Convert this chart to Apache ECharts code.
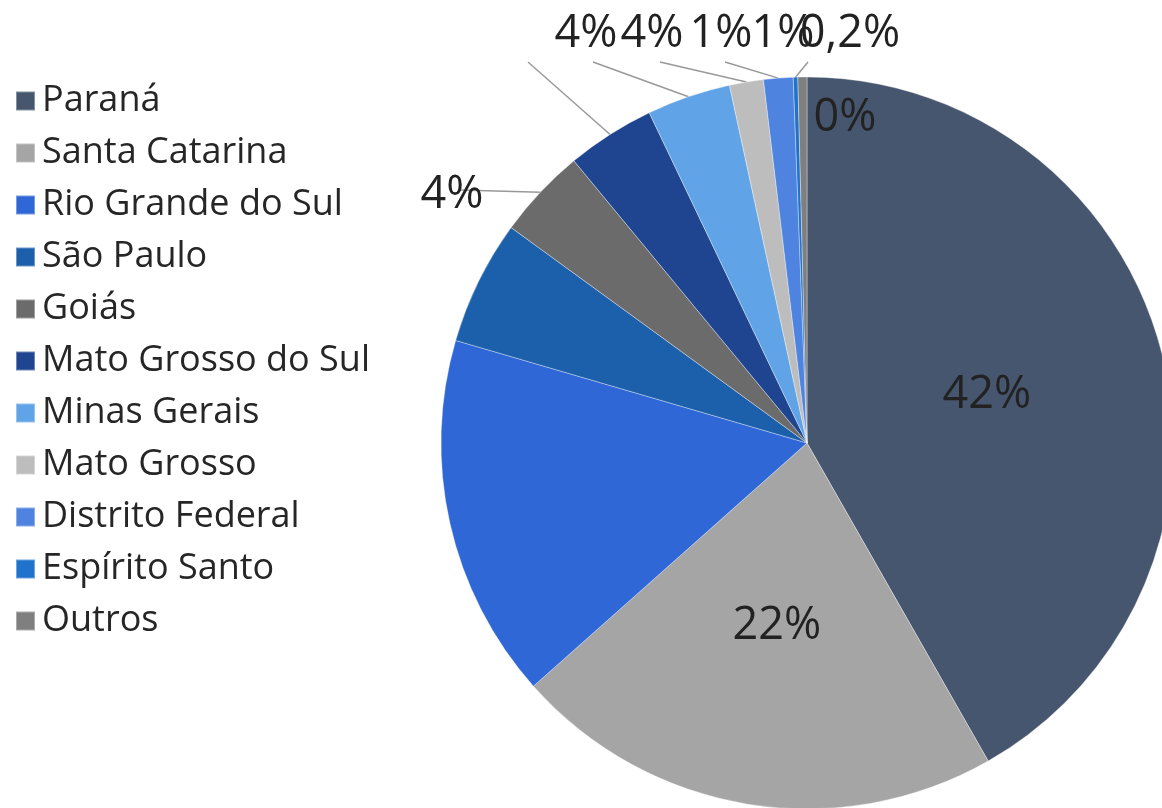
<!DOCTYPE html>
<html>
<head>
<meta charset="utf-8">
<script src="https://cdn.jsdelivr.net/npm/echarts@6/dist/echarts.min.js"></script>
<style>
html,body{margin:0;padding:0;background:#fff;}
#chart{width:1162px;height:808px;}
</style>
</head>
<body>
<div id="chart"></div>
<script>
// ---- data ----
const categories = ['Paraná','Santa Catarina','Rio Grande do Sul','São Paulo','Goiás','Mato Grosso do Sul','Minas Gerais','Mato Grosso','Distrito Federal','Espírito Santo','Outros'];
const values = [41.8, 21.7, 16.1, 5.5, 4.0, 3.9, 3.7, 1.5, 1.3, 0.2, 0.4];
const labelTexts = ['42%','22%','','','4%','4%','4%','1%','1%','0,2%','0%'];

// ---- styling / layout ----
const colors = ['#46566e','#a5a5a5','#2f67d6','#1c5fab','#6b6b6b','#1f4590','#60a3e6','#bdbdbd','#4f83e0','#1f73cc','#7f7f7f'];
const labelPlacement = {
  4: {x: 452, y: 195, end: [460, 190]},
  5: {x: 586, y: 34, end: [528, 62]},
  6: {x: 652, y: 34, end: [593, 62]},
  7: {x: 721, y: 34, end: [660, 62]},
  8: {x: 783, y: 34, end: [725, 62]},
  9: {x: 850, y: 34, end: [808, 62]},
  10: {x: 845, y: 118}
};
const insideIdx = [0, 1, 10];
const hiddenIdx = [2, 3];

const chart = echarts.init(document.getElementById('chart'), null, {renderer: 'canvas'});
const seriesData = categories.map((name, i) => {
  const item = {name: name, value: values[i], itemStyle: {color: colors[i]}};
  if (hiddenIdx.includes(i)) {
    item.label = {show: false};
    item.labelLine = {show: false};
  } else if (insideIdx.includes(i)) {
    item.label = {position: 'inside'};
    item.labelLine = {show: false};
  }
  return item;
});

chart.setOption({
  animation: false,
  color: colors,
  legend: {
    orient: 'vertical',
    left: 10,
    top: 76,
    icon: 'rect',
    itemWidth: 19,
    itemHeight: 19,
    itemGap: 12,
    textStyle: {fontFamily: 'Open Sans', fontSize: 36, lineHeight: 40, color: '#262626', padding: [0, 0, 0, 2]},
    data: categories
  },
  series: [{
    type: 'pie',
    center: [807, 443],
    radius: 366,
    startAngle: 90,
    clockwise: true,
    avoidLabelOverlap: false,
    itemStyle: {borderColor: 'rgba(255,255,255,0.35)', borderWidth: 1},
    label: {
      show: true,
      position: 'outside',
      fontFamily: 'Open Sans',
      fontSize: 45,
      color: '#222',
      formatter: p => labelTexts[p.dataIndex]
    },
    labelLine: {show: true, length: 20, length2: 20, lineStyle: {color: '#999', width: 1.5}},
    labelLayout: function (params) {
      const p = labelPlacement[params.dataIndex];
      if (!p) return {};
      const out = {x: p.x, y: p.y, align: 'center', verticalAlign: 'middle'};
      if (p.end && params.labelLinePoints) {
        out.labelLinePoints = [params.labelLinePoints[0], p.end];
      }
      return out;
    },
    data: seriesData
  }]
});
</script>
</body>
</html>
